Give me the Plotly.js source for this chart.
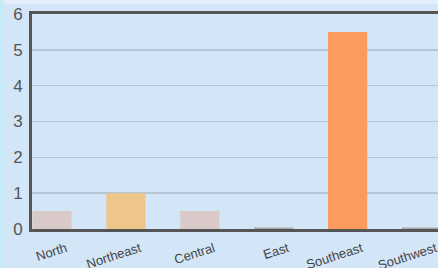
<!DOCTYPE html>
<html><head><meta charset="utf-8">
<script src="https://cdn.plot.ly/plotly-3.0.1.min.js"></script>
<style>
html,body{margin:0;padding:0;background:#d2e6f7;}
#wrap{width:438px;height:268px;position:relative;overflow:hidden;}
#edgeT{position:absolute;left:0;top:0;width:438px;height:4px;background:#e4eefa;z-index:5;}
#edgeL{position:absolute;left:0;top:0;width:4px;height:268px;background:#c6ecfa;z-index:5;}
#chart{width:446px;height:268px;}
</style></head><body>
<div id="wrap"><div id="edgeT"></div><div id="edgeL"></div><div id="chart"></div></div>
<script>
const categories = ["North","Northeast","Central","East","Southeast","Southwest"];
const values = [0.5, 1.0, 0.5, 0.04, 5.5, 0.04];
const colors = ["#d9cac9","#efc68a","#d9cac9","#a9a9a9","#fd9a5e","#a9a9a9"];
const yTicks = [0,1,2,3,4,5,6];

Plotly.newPlot('chart', [{
  type:'bar', x: categories, y: values,
  marker:{color: colors, line:{width:0}},
  width: 0.53, hoverinfo:'none'
}], {
  width:446, height:268,
  margin:{l:32, r:0, t:14, b:39, pad:0},
  paper_bgcolor:'#d2e6f7', plot_bgcolor:'#d2e6f7',
  showlegend:false,
  font:{family:'Liberation Sans, Arial, sans-serif', color:'#555'},
  xaxis:{
    range:[-0.27, 5.33], type:'category',
    showgrid:false, showline:true, linecolor:'#555', linewidth:3,
    mirror:true, ticks:'', tickangle:-18, layer:'below traces',
    tickfont:{size:13, color:'#444'}, ticklabelshift:14, ticklabelstandoff:4,
    fixedrange:true
  },
  yaxis:{
    range:[0,6], tickvals:yTicks, ticktext:yTicks.map(String),
    showgrid:true, gridcolor:'#b5c7d6', gridwidth:1.5,
    showline:true, linecolor:'#555', linewidth:3, mirror:false,
    zeroline:false, ticks:'', tickfont:{size:17, color:'#555'},
    ticklabelstandoff:3, fixedrange:true
  },
  bargap:0.47
}, {staticPlot:true, displayModeBar:false});
</script>
</body></html>
